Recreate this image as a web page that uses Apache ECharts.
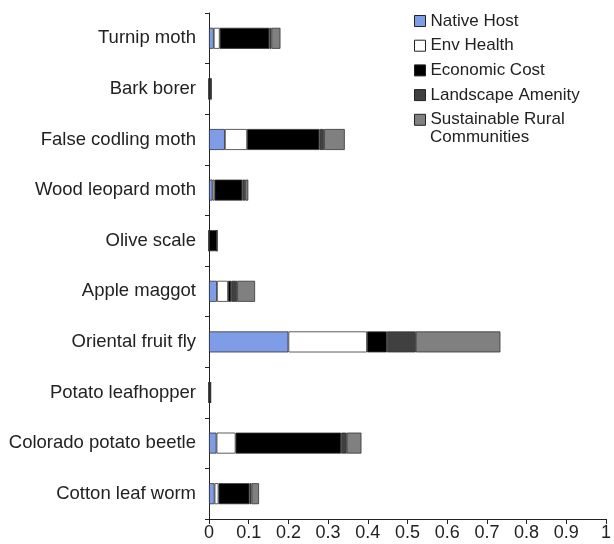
<!DOCTYPE html>
<html>
<head>
<meta charset="utf-8">
<script src="https://cdn.jsdelivr.net/npm/echarts@6/dist/echarts.min.js"></script>
<style>
  html, body { margin: 0; padding: 0; background: #fff; }
  #chart { width: 614px; height: 544px; }
</style>
</head>
<body>
<div id="chart"></div>
<script>
// categories, top to bottom
const categories = [
  "Turnip moth",
  "Bark borer",
  "False codling moth",
  "Wood leopard moth",
  "Olive scale",
  "Apple maggot",
  "Oriental fruit fly",
  "Potato leafhopper",
  "Colorado potato beetle",
  "Cotton leaf worm"
];

const seriesNames = [
  "Native Host",
  "Env Health",
  "Economic Cost",
  "Landscape Amenity",
  "Sustainable Rural Communities"
];

const nativeHost = [0.012, 0, 0.04, 0.009, 0, 0.02, 0.2, 0, 0.019, 0.014];
const envHealth = [0.015, 0, 0.056, 0.005, 0, 0.028, 0.198, 0, 0.048, 0.01];
const economicCost = [0.125, 0.005, 0.182, 0.07, 0.02, 0.008, 0.05, 0.004, 0.266, 0.078];
const landscapeAmenity = [0.005, 0, 0.012, 0.007, 0, 0.015, 0.073, 0, 0.014, 0.005];
const sustainableRural = [0.023, 0, 0.052, 0.008, 0, 0.045, 0.213, 0, 0.037, 0.019];

const xTicks = [0, 0.1, 0.2, 0.3, 0.4, 0.5, 0.6, 0.7, 0.8, 0.9, 1];

const values = [nativeHost, envHealth, economicCost, landscapeAmenity, sustainableRural];
const colors = ["#7e9de6", "#ffffff", "#000000", "#404040", "#808080"];

const chart = echarts.init(document.getElementById("chart"));

chart.setOption({
  backgroundColor: "#fff",
  animation: false,
  grid: {
    left: 209,
    right: 5,
    top: 13,
    bottom: 25
  },
  legend: {
    orient: "vertical",
    left: 409,
    top: 7,
    itemWidth: 11,
    itemHeight: 11,
    itemGap: 6.7,
    icon: "rect",
    data: seriesNames,
    formatter: function (name) {
      // second line is drawn below as graphic text so the icon sits on the first line
      return name === "Sustainable Rural Communities" ? "Sustainable Rural" : name;
    },
    itemStyle: {
      borderColor: "#222",
      borderWidth: 1
    },
    textStyle: {
      fontFamily: "Liberation Sans",
      fontSize: 17,
      color: "#222",
      lineHeight: 18
    }
  },
  graphic: [{
    type: "text",
    left: 430,
    top: 129,
    style: {
      text: "Communities",
      fill: "#222",
      font: "17px Liberation Sans"
    }
  }],
  xAxis: {
    type: "value",
    min: 0,
    max: 1,
    interval: 0.1,
    splitLine: { show: false },
    axisLine: { show: true, lineStyle: { color: "#222", width: 1 } },
    axisTick: { show: true, length: 5, lineStyle: { color: "#222" } },
    axisLabel: {
      color: "#222",
      fontFamily: "Liberation Sans",
      fontSize: 18,
      margin: 5,
      formatter: function (v) {
        const t = xTicks.find(function (x) { return Math.abs(x - v) < 1e-9; });
        return t === undefined ? "" : String(t);
      }
    }
  },
  yAxis: {
    type: "category",
    inverse: true,
    data: categories,
    axisLine: { show: true, lineStyle: { color: "#222", width: 1 } },
    axisTick: { show: true, length: 4, lineStyle: { color: "#222" } },
    axisLabel: {
      color: "#222",
      fontFamily: "Liberation Sans",
      fontSize: 18.5,
      margin: 13
    }
  },
  series: values.map(function (arr, i) {
    return {
      name: seriesNames[i],
      type: "bar",
      stack: "total",
      barWidth: 21,
      data: arr,
      itemStyle: {
        color: colors[i],
        borderColor: "#333",
        borderWidth: 0.8
      }
    };
  })
});
</script>
</body>
</html>
